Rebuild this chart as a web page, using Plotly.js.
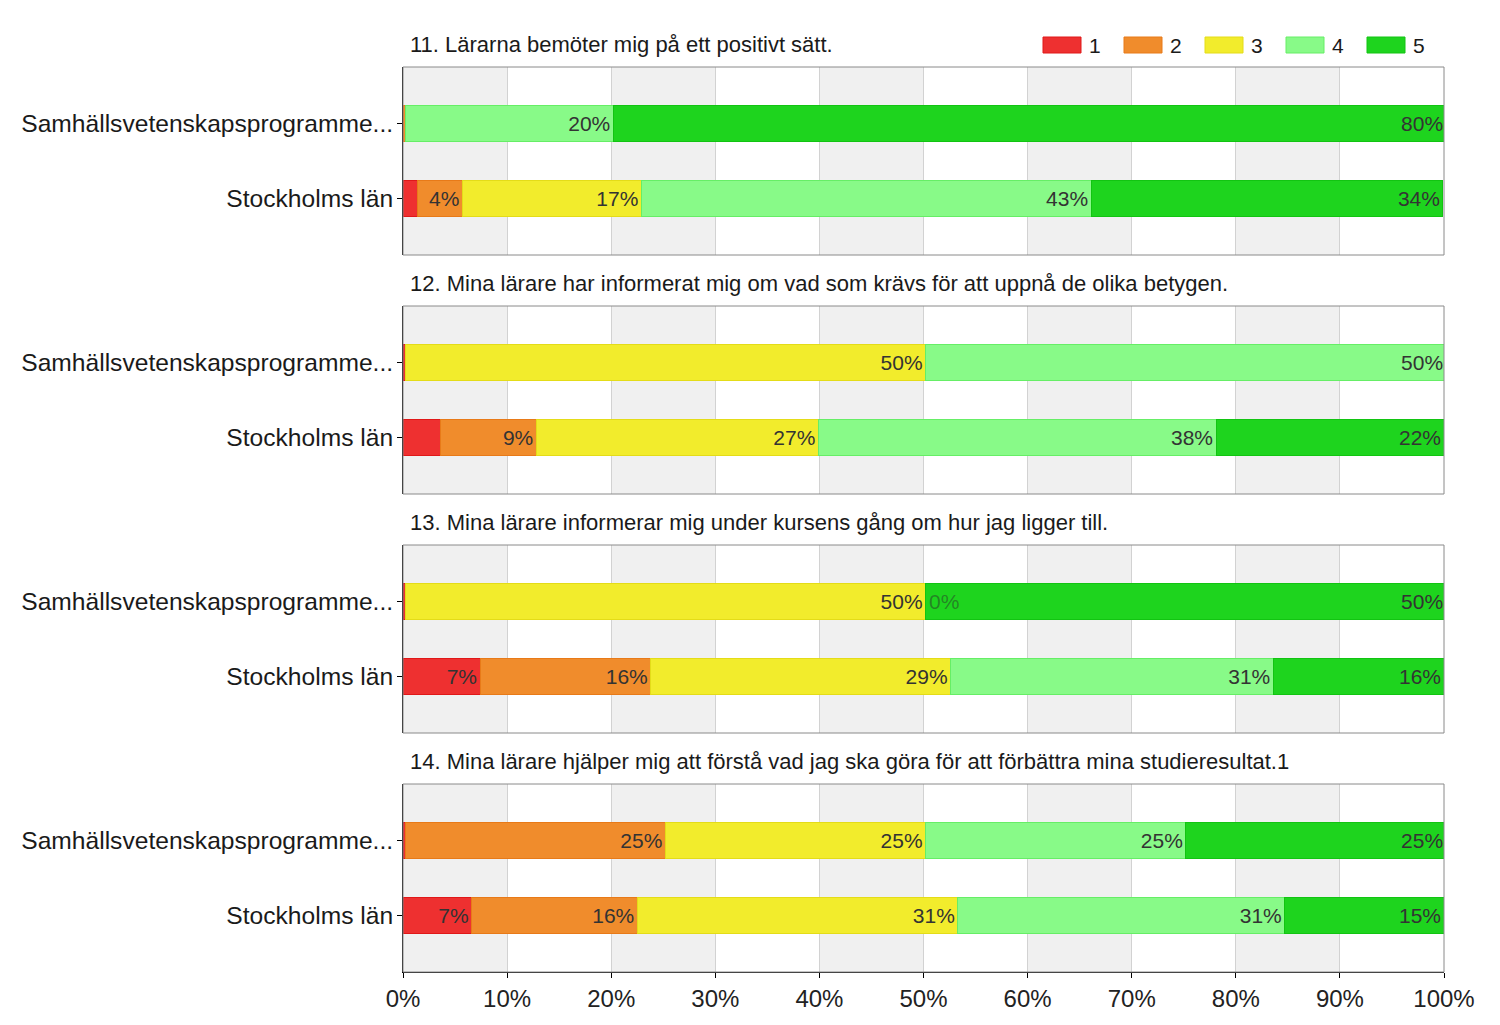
<!DOCTYPE html>
<html>
<head>
<meta charset="utf-8">
<script src="https://cdn.plot.ly/plotly-3.0.1.min.js"></script>
<style>
html,body{margin:0;padding:0;background:#fff;}
#chart{width:1500px;height:1025px;}
</style>
</head>
<body>
<div id="chart"></div>
<script>
// ---- data ----
const questions = [
  "11. Lärarna bemöter mig på ett positivt sätt.",
  "12. Mina lärare har informerat mig om vad som krävs för att uppnå de olika betygen.",
  "13. Mina lärare informerar mig under kursens gång om hur jag ligger till.",
  "14. Mina lärare hjälper mig att förstå vad jag ska göra för att förbättra mina studieresultat.1"
];
const categories = ["Samhällsvetenskapsprogramme...", "Stockholms län"];
const seriesNames = ["1", "2", "3", "4", "5"];
const seriesColors = ["#ee3030", "#f08c2c", "#f2ec2c", "#88fa88", "#1ed41e"];
const seriesLines  = ["#e01818", "#e87a18", "#e4dc18", "#66ee66", "#12c412"];

// values per question: [series][category] = [Samhäll..., Stockholms län]
const q11 = { s1: [0, 1.4], s2: [0.2, 4.3], s3: [0, 17.2], s4: [20, 43.2], s5: [80, 33.8] };
const q12 = { s1: [0.2, 3.6], s2: [0, 9.2], s3: [50, 27.1], s4: [50, 38.2], s5: [0, 21.9] };
const q13 = { s1: [0.2, 7.4], s2: [0, 16.4], s3: [50, 28.8], s4: [0, 31.0], s5: [50, 16.4] };
const q14 = { s1: [0.2, 6.6], s2: [25, 15.9], s3: [25, 30.8], s4: [25, 31.4], s5: [25, 15.3] };
const questionData = [q11, q12, q13, q14];
// zero-value labels shown in the reference: [question index, series index, category index]
const zeroLabels = [[2, 3, 0]];

const xTicks = [0, 10, 20, 30, 40, 50, 60, 70, 80, 90, 100];

// ---- layout geometry ----
const W = 1500, H = 1025;
const M = { l: 403, r: 56, t: 67, b: 53 };
const plotW = W - M.l - M.r, plotH = H - M.t - M.b;
const panelH = 188, gapH = 51, totalH = 4 * panelH + 3 * gapH;
const domains = [];
for (let i = 0; i < 4; i++) {
  const top = 1 - (i * (panelH + gapH)) / totalH;
  const bot = top - panelH / totalH;
  domains.push([Math.max(0, bot), Math.min(1, top)]);
}
const px2x = p => (p - M.l) / plotW;
const px2y = p => 1 - (p - M.t) / plotH;

const FONT = "Liberation Sans, Arial, sans-serif";
const traces = [];
const layout = {
  width: W, height: H,
  margin: M,
  paper_bgcolor: "#ffffff",
  plot_bgcolor: "rgba(0,0,0,0)",
  barmode: "stack",
  bargap: 0,
  font: { family: FONT, color: "#222" },
  showlegend: false,
  uniformtext: { mode: "show", minsize: 20 },
  shapes: [],
  annotations: []
};

// custom legend (larger swatches like the reference)
seriesNames.forEach((nm, si) => {
  const left = 1043 + si * 81;
  layout.shapes.push({
    type: "rect", xref: "paper", yref: "paper",
    x0: px2x(left), x1: px2x(left + 38), y0: px2y(53), y1: px2y(37),
    fillcolor: seriesColors[si], line: { color: seriesLines[si], width: 1 }
  });
  layout.annotations.push({
    text: nm, xref: "paper", yref: "paper", x: px2x(left + 44), y: px2y(45),
    xanchor: "left", yanchor: "middle", showarrow: false,
    font: { size: 21, color: "#1a1a1a", family: FONT }
  });
});

questionData.forEach((qd, qi) => {
  const n = qi + 1;
  const xa = n === 1 ? "x" : "x" + n;
  const ya = n === 1 ? "y" : "y" + n;
  const xKey = n === 1 ? "xaxis" : "xaxis" + n;
  const yKey = n === 1 ? "yaxis" : "yaxis" + n;
  const isBottom = qi === 3;

  layout[xKey] = {
    domain: [0, 1], anchor: ya, range: [0, 100], fixedrange: true,
    tickvals: xTicks, ticktext: xTicks.map(v => v + "%"),
    showticklabels: isBottom, ticks: isBottom ? "outside" : "",
    ticklen: 5, tickcolor: "#000", tickfont: { size: 24, color: "#222" },
    showgrid: true, gridcolor: "#d2d2d2", gridwidth: 1, zeroline: false,
    showline: isBottom, linecolor: "#000", linewidth: 1
  };
  if (!isBottom) layout[xKey].matches = "x4";
  layout[yKey] = {
    domain: domains[qi], anchor: xa, type: "category",
    categoryarray: [categories[1], categories[0]], categoryorder: "array",
    range: [-0.755, 1.755], fixedrange: true,
    ticks: "outside", ticklen: 5, tickcolor: "#000",
    ticklabelstandoff: -1,
    tickfont: { size: 24.6, color: "#1a1a1a" },
    showline: true, linecolor: "#000", linewidth: 1, showgrid: false, zeroline: false
  };

  // alternating column shading
  for (let k = 0; k < xTicks.length - 1; k += 2) {
    layout.shapes.push({
      type: "rect", xref: xa, yref: ya + " domain",
      x0: xTicks[k], x1: xTicks[k + 1], y0: 0, y1: 1,
      fillcolor: "#f0f0f0", line: { width: 0 }, layer: "below"
    });
  }
  // frame
  layout.shapes.push({
    type: "rect", xref: xa + " domain", yref: ya + " domain",
    x0: 0, x1: 1, y0: 0, y1: 1,
    line: { color: "#8a8a8a", width: 1 }, fillcolor: "rgba(0,0,0,0)", layer: "above"
  });

  // question title
  layout.annotations.push({
    text: questions[qi], xref: "paper", yref: "paper",
    x: 0, y: domains[qi][1], xanchor: "left", yanchor: "bottom",
    xshift: 5, yshift: 8, showarrow: false,
    font: { size: 22, color: "#1a1a1a", family: FONT }
  });

  const keys = ["s1", "s2", "s3", "s4", "s5"];
  keys.forEach((key, si) => {
    const vals = qd[key];
    traces.push({
      type: "bar", orientation: "h",
      name: seriesNames[si], legendgroup: seriesNames[si], showlegend: false,
      x: vals, y: [categories[0], categories[1]],
      xaxis: xa, yaxis: ya, width: 0.47,
      marker: { color: seriesColors[si], line: { color: seriesLines[si], width: 1 } },
      text: vals.map(v => (v >= 4 ? Math.round(v) + "%" : "")),
      textposition: "inside", insidetextanchor: "end", textangle: 0,
      insidetextfont: { size: 21, color: "#333", family: FONT },
      hoverinfo: "name+x"
    });
  });

  // zero-value labels
  zeroLabels.filter(z => z[0] === qi).forEach(z => {
    const si = z[1], ci = z[2];
    let cum = 0;
    for (let s = 0; s < si; s++) cum += qd[keys[s]][ci];
    layout.annotations.push({
      text: Math.round(qd[keys[si]][ci]) + "%", xref: xa, yref: ya,
      x: cum, y: categories[ci], xanchor: "left", yanchor: "middle",
      xshift: 1, showarrow: false,
      font: { size: 21, color: "rgba(40,80,40,0.6)", family: FONT }
    });
  });
});

Plotly.newPlot("chart", traces, layout, { displayModeBar: false, staticPlot: true });
</script>
</body>
</html>
